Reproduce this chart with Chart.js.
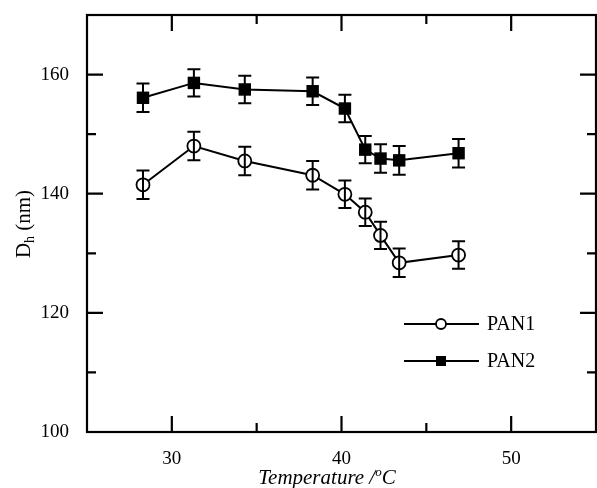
<!DOCTYPE html>
<html>
<head>
    <title>Dh vs Temperature</title>
    <script src="https://cdn.jsdelivr.net/npm/chart.js"></script>
    <style>
        body { margin: 0; background: #fff; }
        #wrap { width: 597px; height: 488px; }
    </style>
</head>
<body>
    <div id="wrap"><canvas id="dh-chart"></canvas></div>

    <script>
        // values
        const temps = [28.3, 31.3, 34.3, 38.3, 40.2, 41.4, 42.3, 43.4, 46.9];
        const pan1 = [141.5, 148.0, 145.5, 143.1, 139.9, 136.9, 133.0, 128.4, 129.7];
        const pan1Err = [2.4, 2.4, 2.4, 2.4, 2.3, 2.3, 2.3, 2.4, 2.3];
        const pan2 = [156.1, 158.6, 157.5, 157.2, 154.3, 147.4, 145.9, 145.6, 146.8];
        const pan2Err = [2.4, 2.3, 2.3, 2.3, 2.3, 2.3, 2.4, 2.4, 2.4];
        const xMajor = [30, 40, 50];
        const yMajor = [100, 120, 140, 160];

        const serif = '"Liberation Serif", "DejaVu Serif", serif';

        const toPoints = (ys) => temps.map((t, i) => ({ x: t, y: ys[i] }));

        // error bars, inward ticks, frame, axis titles and legend
        const decor = {
            id: 'decor',
            afterDatasetsDraw(chart) {
                const ctx = chart.ctx;
                const xs = chart.scales.x, ys = chart.scales.y;
                ctx.save();
                ctx.strokeStyle = '#000';
                ctx.lineWidth = 2;
                [[pan1, pan1Err], [pan2, pan2Err]].forEach(([vals, errs]) => {
                    vals.forEach((v, i) => {
                        const px = xs.getPixelForValue(temps[i]);
                        const top = ys.getPixelForValue(v + errs[i]);
                        const bot = ys.getPixelForValue(v - errs[i]);
                        ctx.beginPath();
                        ctx.moveTo(px, top); ctx.lineTo(px, bot);
                        ctx.moveTo(px - 6.5, top); ctx.lineTo(px + 6.5, top);
                        ctx.moveTo(px - 6.5, bot); ctx.lineTo(px + 6.5, bot);
                        ctx.stroke();
                    });
                });
                ctx.restore();
            },
            afterDraw(chart) {
                const ctx = chart.ctx;
                const a = chart.chartArea;
                const xs = chart.scales.x, ys = chart.scales.y;
                ctx.save();
                ctx.strokeStyle = '#000';
                ctx.lineWidth = 2.2;
                ctx.strokeRect(a.left, a.top, a.right - a.left, a.bottom - a.top);

                // ticks pointing into the plot
                ctx.beginPath();
                xs.ticks.forEach(t => {
                    const len = xMajor.includes(t.value) ? 16 : 9;
                    const px = xs.getPixelForValue(t.value);
                    if (px <= a.left + 1 || px >= a.right - 1) return;
                    ctx.moveTo(px, a.bottom); ctx.lineTo(px, a.bottom - len);
                    ctx.moveTo(px, a.top); ctx.lineTo(px, a.top + len);
                });
                ys.ticks.forEach(t => {
                    const len = yMajor.includes(t.value) ? 16 : 9;
                    const py = ys.getPixelForValue(t.value);
                    if (py <= a.top + 1 || py >= a.bottom - 1) return;
                    ctx.moveTo(a.left, py); ctx.lineTo(a.left + len, py);
                    ctx.moveTo(a.right, py); ctx.lineTo(a.right - len, py);
                });
                ctx.stroke();

                // y title: D_h (nm)
                ctx.fillStyle = '#000';
                ctx.translate(30, 224);
                ctx.rotate(-Math.PI / 2);
                ctx.textBaseline = 'alphabetic';
                ctx.font = '21px ' + serif;
                const wD = ctx.measureText('D').width;
                ctx.font = '14px ' + serif;
                const wh = ctx.measureText('h').width;
                ctx.font = '21px ' + serif;
                const wRest = ctx.measureText(' (nm)').width;
                let sx = -(wD + wh + wRest) / 2;
                ctx.fillText('D', sx, 0); sx += wD;
                ctx.font = '14px ' + serif;
                ctx.fillText('h', sx, 4); sx += wh;
                ctx.font = '21px ' + serif;
                ctx.fillText(' (nm)', sx, 0);
                ctx.setTransform(1, 0, 0, 1, 0, 0);

                // x title: Temperature /°C
                const p1 = 'Temperature /', p2 = 'o', p3 = 'C';
                ctx.font = 'italic 21px ' + serif;
                const w1 = ctx.measureText(p1).width, w3 = ctx.measureText(p3).width;
                ctx.font = 'italic 13px ' + serif;
                const w2 = ctx.measureText(p2).width;
                let tx = 327 - (w1 + w2 + w3) / 2;
                const ty = 484;
                ctx.font = 'italic 21px ' + serif;
                ctx.fillText(p1, tx, ty); tx += w1;
                ctx.font = 'italic 13px ' + serif;
                ctx.fillText(p2, tx, ty - 8); tx += w2;
                ctx.font = 'italic 21px ' + serif;
                ctx.fillText(p3, tx, ty);

                // legend inside plot
                const rows = [{ ds: chart.data.datasets[0], y: 324 }, { ds: chart.data.datasets[1], y: 361 }];
                ctx.font = '20px ' + serif;
                ctx.textBaseline = 'middle';
                rows.forEach(r => {
                    ctx.lineWidth = 2;
                    ctx.strokeStyle = '#000';
                    ctx.beginPath();
                    ctx.moveTo(404, r.y); ctx.lineTo(479, r.y);
                    ctx.stroke();
                    ctx.fillStyle = r.ds.pointBackgroundColor;
                    ctx.lineWidth = 1.8;
                    if (r.ds.pointStyle === 'circle') {
                        ctx.beginPath();
                        ctx.arc(441, r.y, 5, 0, Math.PI * 2);
                        ctx.fill(); ctx.stroke();
                    } else {
                        ctx.fillRect(436, r.y - 5, 10, 10);
                    }
                    ctx.fillStyle = '#000';
                    ctx.fillText(r.ds.label, 487, r.y + 1);
                });
                ctx.restore();
            }
        };

        const ctx = document.getElementById('dh-chart').getContext('2d');
        new Chart(ctx, {
            type: 'scatter',
            data: {
                datasets: [{
                    label: 'PAN1',
                    data: toPoints(pan1),
                    showLine: true,
                    borderColor: '#000',
                    borderWidth: 2,
                    pointStyle: 'circle',
                    pointRadius: 6.5,
                    pointBorderWidth: 1.8,
                    pointBackgroundColor: '#fff',
                    pointBorderColor: '#000',
                    order: 1
                }, {
                    label: 'PAN2',
                    data: toPoints(pan2),
                    showLine: true,
                    borderColor: '#000',
                    borderWidth: 2,
                    pointStyle: 'rect',
                    pointRadius: 8.8,
                    pointBorderWidth: 0,
                    pointBackgroundColor: '#000',
                    pointBorderColor: '#000',
                    order: 0
                }]
            },
            options: {
                responsive: true,
                maintainAspectRatio: false,
                animation: false,
                layout: { autoPadding: false, padding: { top: 15, right: 1, left: 0, bottom: 0 } },
                plugins: {
                    legend: { display: false },
                    tooltip: { enabled: false }
                },
                scales: {
                    x: {
                        type: 'linear',
                        min: 25,
                        max: 55,
                        afterFit: (s) => { s.height = 56; s.paddingLeft = 0; s.paddingRight = 0; },
                        grid: { display: false },
                        border: { display: false },
                        ticks: {
                            stepSize: 5,
                            padding: 8,
                            maxRotation: 0,
                            autoSkip: false,
                            color: '#000',
                            font: { family: serif, size: 19 },
                            callback: (v) => xMajor.includes(v) ? String(v) : ''
                        }
                    },
                    y: {
                        min: 100,
                        max: 170,
                        afterFit: (s) => { s.width = 87; s.paddingTop = 0; s.paddingBottom = 0; },
                        grid: { display: false },
                        border: { display: false },
                        ticks: {
                            stepSize: 10,
                            padding: 10,
                            autoSkip: false,
                            color: '#000',
                            font: { family: serif, size: 19 },
                            callback: (v) => yMajor.includes(v) ? String(v) : ''
                        }
                    }
                }
            },
            plugins: [decor]
        });
    </script>
</body>
</html>
